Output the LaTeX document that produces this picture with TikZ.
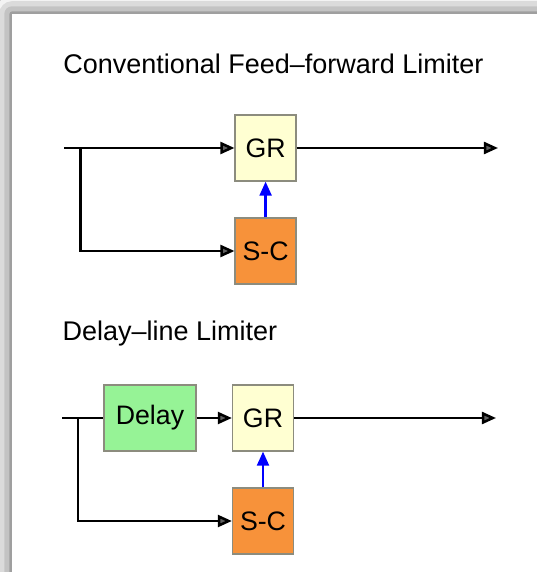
\documentclass[tikz,border=0pt]{standalone}
\usepackage{fontspec}
\setmainfont{Liberation Sans}
\usetikzlibrary{arrows.meta,positioning,shadows.blur}
\definecolor{grfill}{HTML}{FFFFD2}
\definecolor{scfill}{HTML}{F7923A}
\definecolor{dlyfill}{HTML}{96F396}
\definecolor{blkedge}{HTML}{8C8C7E}

\begin{document}
\begin{tikzpicture}[
  blk/.style={rectangle, draw=blkedge, line width=0.9pt, fill=#1, minimum width=1.525cm, minimum height=1.65cm, inner sep=0pt, font=\fontsize{19}{21}\selectfont},
  ttl/.style={anchor=base west, inner sep=0pt, font=\fontsize{19.2}{23}\selectfont},
  sig/.style={line width=1.8pt, -{Triangle[length=10pt,width=8.5pt]}},
  ctl/.style={blue, line width=1.7pt, -{Triangle[length=10pt,width=8.5pt]}}
]
  \useasboundingbox (0,0) rectangle (13.4,-14.3);
  \fill[white] (0,0) rectangle (13.4,-14.3);
  \fill[white, blur shadow={shadow xshift=0pt, shadow yshift=0pt, shadow blur radius=0.45cm, shadow opacity=75}] (0.3,-0.35) rectangle (14.2,-15.2);

  % feed-forward
  \node[ttl] (t1) at (1.575,-1.85) {Conventional Feed\textendash forward Limiter};
  \node[blk=grfill] (gr1) at (6.64,-3.7) {GR};
  \node[blk=scfill] (sc1) at (6.64,-6.275) {S-C};
  \coordinate (in1) at (1.6,-3.7);
  \coordinate (br1) at (2.015,-3.7);
  \coordinate (out1) at (12.45,-3.7);
  \draw[sig] (in1) -- (gr1);
  \draw[sig] (br1) |- (sc1.west);
  \draw[sig] (gr1) -- (out1);
  \draw[ctl] (sc1) -- (gr1);

  % delay-line
  \node[ttl] (t2) at (1.56,-8.52) {Delay\textendash line Limiter};
  \node[blk=dlyfill, minimum width=2.3cm] (dly) at (3.75,-10.45) {Delay};
  \node[blk=grfill] (gr2) at (6.575,-10.45) {GR};
  \node[blk=scfill] (sc2) at (6.575,-13.025) {S-C};
  \coordinate (in2) at (1.55,-10.45);
  \coordinate (br2) at (1.95,-10.45);
  \coordinate (out2) at (12.4,-10.45);
  \draw[line width=1.8pt] (in2) -- (dly);
  \draw[sig] (dly) -- (gr2);
  \draw[sig] (br2) |- (sc2.west);
  \draw[sig] (gr2) -- (out2);
  \draw[ctl] (sc2) -- (gr2);
\end{tikzpicture}
\end{document}
